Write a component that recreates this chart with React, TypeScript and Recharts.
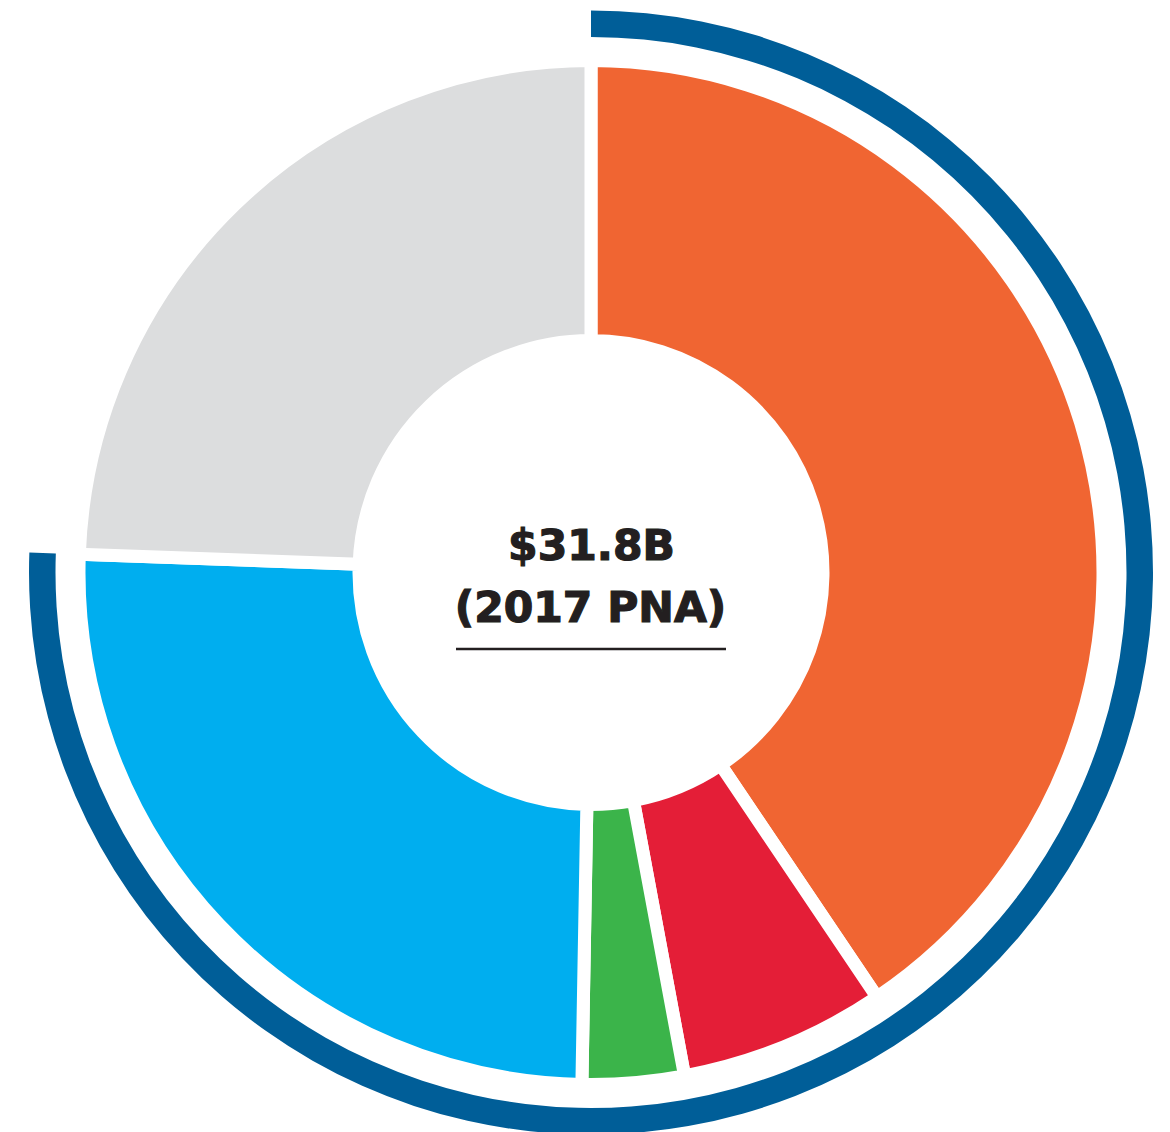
import React from "react";
import { PieChart, Pie, Cell } from "recharts";

// Donut segments (clockwise from 12 o'clock), values in $B
const categories = ["Segment 1", "Segment 2", "Segment 3", "Segment 4", "Segment 5"];
const values = [12.9, 2.07, 1.02, 8.04, 7.77];
const colors = ["#F06532", "#E41E37", "#3BB44A", "#00AEEF", "#DCDDDE"];

// Outer bracket ring: covers the first four segments, the last stays empty
const ringCovered = [true, true, true, true, false];
const ringColor = "#005E98";

const titleLines = ["$31.8B", "(2017 PNA)"];

const W = 1170;
const H = 1132;
const CX = 591;
const CY = 572.5;

const donutData = categories.map((name, i) => ({ name, value: values[i], fill: colors[i] }));
const coveredSum = values.reduce((s, v, i) => (ringCovered[i] ? s + v : s), 0);
const uncoveredSum = values.reduce((s, v, i) => (!ringCovered[i] ? s + v : s), 0);
const ringData = [
  { name: "covered", value: coveredSum, fill: ringColor },
  { name: "rest", value: uncoveredSum, fill: "none" },
];

const textStyle = {
  fontFamily: "'DejaVu Sans', sans-serif",
  fontWeight: "bold" as const,
  fontSize: 42.5,
};

export default function App() {
  return (
    <div style={{ position: "absolute", left: 0, top: 0, width: W, height: H, background: "#fff" }}>
      <PieChart width={W} height={H} margin={{ top: 0, right: 0, bottom: 0, left: 0 }}>
        <Pie
          data={ringData}
          dataKey="value"
          cx={CX}
          cy={CY}
          startAngle={90}
          endAngle={-270}
          innerRadius={535.5}
          outerRadius={562}
          stroke="none"
          isAnimationActive={false}
          label={false}
        >
          {ringData.map((d, i) => (
            <Cell key={i} fill={d.fill} stroke="none" />
          ))}
        </Pie>
        <Pie
          data={donutData}
          dataKey="value"
          cx={CX}
          cy={CY}
          startAngle={90}
          endAngle={-270}
          innerRadius={232}
          outerRadius={512}
          stroke="#ffffff"
          strokeWidth={13}
          isAnimationActive={false}
          label={false}
        >
          {donutData.map((d, i) => (
            <Cell key={i} fill={d.fill} stroke="#ffffff" strokeWidth={13} />
          ))}
        </Pie>
      </PieChart>
      <svg
        width={W}
        height={H}
        style={{ position: "absolute", left: 0, top: 0, pointerEvents: "none" }}
      >
        <text
          x={CX + 0.5}
          y={560}
          textAnchor="middle"
          style={textStyle}
          fill="#231F20"
          stroke="#231F20"
          strokeWidth={1.2}
        >
          {titleLines[0]}
        </text>
        <text
          x={CX - 0.5}
          y={622}
          textAnchor="middle"
          style={textStyle}
          fill="#231F20"
          stroke="#231F20"
          strokeWidth={1.2}
        >
          {titleLines[1]}
        </text>
        <line x1={456} x2={726} y1={649} y2={649} stroke="#231F20" strokeWidth={2.5} />
      </svg>
    </div>
  );
}
